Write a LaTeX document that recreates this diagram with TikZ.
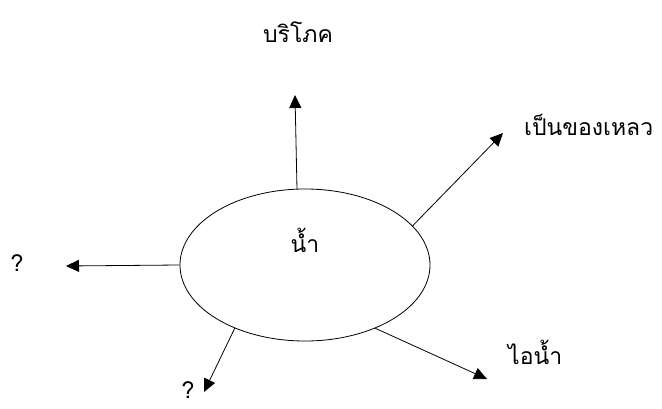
\documentclass[tikz,border=0pt]{standalone}
\usepackage{fontspec}
\newfontfamily\thaifont[Script=Thai]{Loma}
\usepackage{tikz}
\usetikzlibrary{shapes.geometric, arrows.meta}

\begin{document}
\begin{tikzpicture}[
    x=1pt, y=1pt,
    every node/.style={color=black, font=\thaifont\fontsize{23}{26}\selectfont},
    pool/.style={draw, ellipse, minimum width=250pt, minimum height=152pt,
                 line width=0.8pt, inner sep=0pt},
    lbl/.style={inner sep=1pt},
    arrow/.style={-{Triangle[length=13pt, width=12pt]}, color=black, line width=0.8pt}
]
\useasboundingbox (0,0) rectangle (662,408);

% --- Centre ---
\node[pool] (water) at (305,143) {};
\node[lbl] (waterlbl) at (305,168) {น้ำ};

% --- Labels ---
\node[lbl] (consume) at (298,376) {บริโภค};
\node[lbl, anchor=west] (liquid) at (523,283) {เป็นของเหลว};
\node[lbl, anchor=west] (vapor) at (507,56) {ไอน้ำ};
\node[lbl] (qleft) at (17,145) {?};
\node[lbl, inner sep=0pt, anchor=base] (qbottom) at (188,10) {?};

% --- Arrow tips ---
\coordinate (tipUp)    at (295,313);
\coordinate (tipRight) at (503,275);
\coordinate (tipLeft)  at (66,142);
\coordinate (tipDownL) at (204,16);
\coordinate (tipDownR) at (487,29);

% --- Arrows out of the ellipse ---
\draw[arrow] (water.96)  -- (tipUp);
\draw[arrow] (water.20)  -- (tipRight);
\draw[arrow] (water.180) -- (tipLeft);
\draw[arrow] (water.222) -- (tipDownL);
\draw[arrow] (water.318) -- (tipDownR);

\end{tikzpicture}
\end{document}
